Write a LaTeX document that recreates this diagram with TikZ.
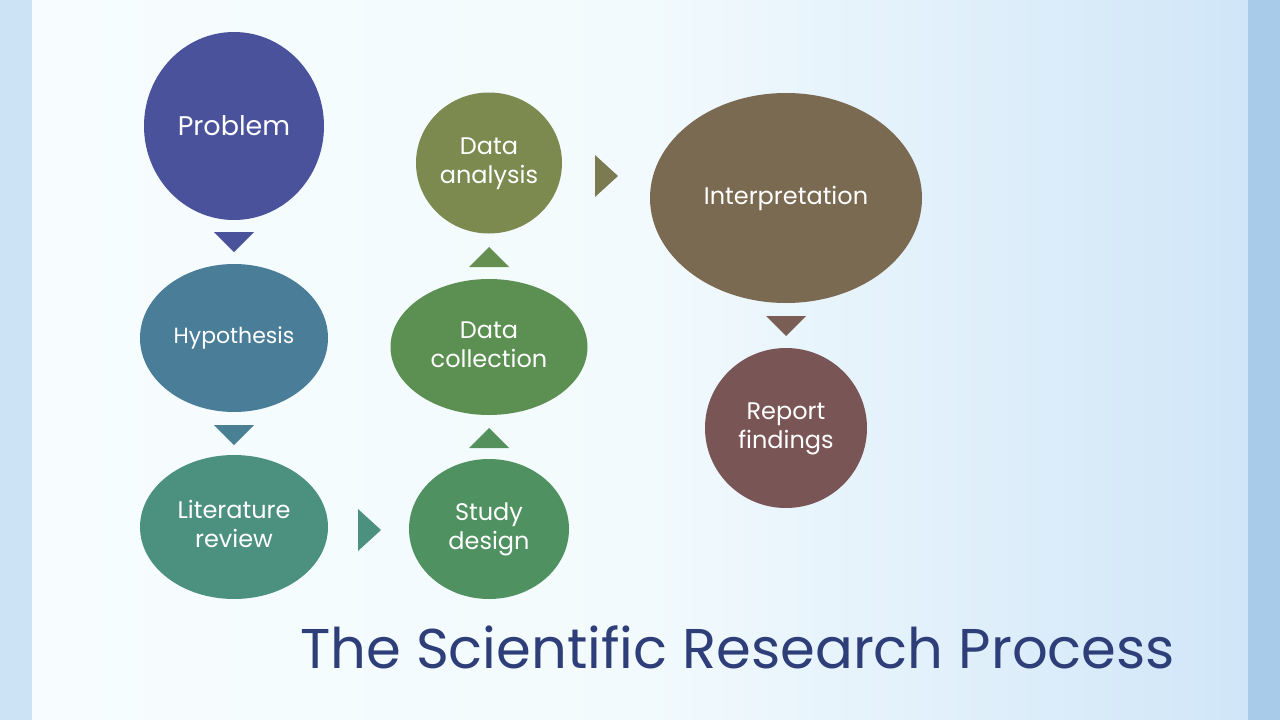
\documentclass[tikz,border=0pt]{standalone}
\usepackage{fontspec}
\setmainfont{Poppins}
\usetikzlibrary{shapes.geometric,calc}
\definecolor{bgL}{HTML}{F7FDFE}
\definecolor{bgR}{HTML}{D0E6F8}
\definecolor{stripL}{HTML}{CCE3F5}
\definecolor{stripR}{HTML}{A9CBEA}
\definecolor{cProb}{HTML}{4A529C}
\definecolor{cHyp}{HTML}{4A7D98}
\definecolor{cLit}{HTML}{4C917F}
\definecolor{cStudy}{HTML}{4F9160}
\definecolor{cColl}{HTML}{5C8F52}
\definecolor{cAna}{HTML}{7C8A50}
\definecolor{cInt}{HTML}{7B6A52}
\definecolor{cRep}{HTML}{7A5555}
\definecolor{cTitle}{HTML}{2E3E78}
\tikzset{
  blob/.style={ellipse, inner sep=0pt, text=white, align=center, font=\fontsize{24}{29}\selectfont},
}
\newcommand{\tridown}[2]{\fill[#2] ($(#1)+(-20,-10)$) -- ($(#1)+(20,-10)$) -- ($(#1)+(0,10)$) -- cycle;}
\newcommand{\triup}[2]{\fill[#2] ($(#1)+(-20,10)$) -- ($(#1)+(20,10)$) -- ($(#1)+(0,-10)$) -- cycle;}
\newcommand{\triright}[2]{\fill[#2] ($(#1)+(-11,-21)$) -- ($(#1)+(-11,21)$) -- ($(#1)+(12,0)$) -- cycle;}
\newcommand{\lowr}[1]{\raisebox{-4pt}{\begin{tabular}{@{}c@{}}#1\end{tabular}}}
\begin{document}
\begin{tikzpicture}[x=1pt,y=-1pt]
\useasboundingbox (0,0) rectangle (1280,720);
\shade[left color=bgL, right color=bgR, middle color=bgL!88!bgR] (32,0) rectangle (1248,720);
\fill[stripL] (0,0) rectangle (32,720);
\fill[stripR] (1248,0) rectangle (1280,720);

\node[blob, fill=cProb, minimum width=180, minimum height=188, font=\fontsize{27}{32}\selectfont] (prob) at (234,126) {Problem};
\node[blob, fill=cHyp, minimum width=188, minimum height=148, font=\fontsize{22}{27}\selectfont] (hyp) at (234,338) {Hypothesis};
\node[blob, fill=cLit, minimum width=188, minimum height=144] (lit) at (234,527) {\lowr{Literature\\review}};
\node[blob, fill=cStudy, minimum width=160, minimum height=140] (study) at (489,529) {\lowr{Study\\design}};
\node[blob, fill=cColl, minimum width=197, minimum height=136] (coll) at (489,347) {\lowr{Data\\collection}};
\node[blob, fill=cAna, minimum width=146, minimum height=141] (ana) at (489,163) {\lowr{Data\\analysis}};
\node[blob, fill=cInt, minimum width=272, minimum height=210] (int) at (786,198) {\raisebox{-2pt}{Interpretation}};
\node[blob, fill=cRep, minimum width=162, minimum height=160] (rep) at (786,428) {\lowr{Report\\findings}};

\coordinate (t1) at (234,242);
\coordinate (t2) at (234,435);
\coordinate (t3) at (369,530);
\coordinate (t4) at (489,438);
\coordinate (t5) at (489,257);
\coordinate (t6) at (606,176);
\coordinate (t7) at (786,326);
\tridown{t1}{cProb}
\tridown{t2}{cHyp!85!cLit}
\triright{t3}{cLit}
\triup{t4}{cStudy!70!cColl}
\triup{t5}{cColl!70!cAna}
\triright{t6}{cAna!50!cInt}
\tridown{t7}{cInt!40!cRep}

\node[anchor=base west, inner sep=0pt, text=cTitle, font=\fontsize{56}{60}\selectfont] (title) at (300,668) {The Scientific Research Process};
\end{tikzpicture}
\end{document}
